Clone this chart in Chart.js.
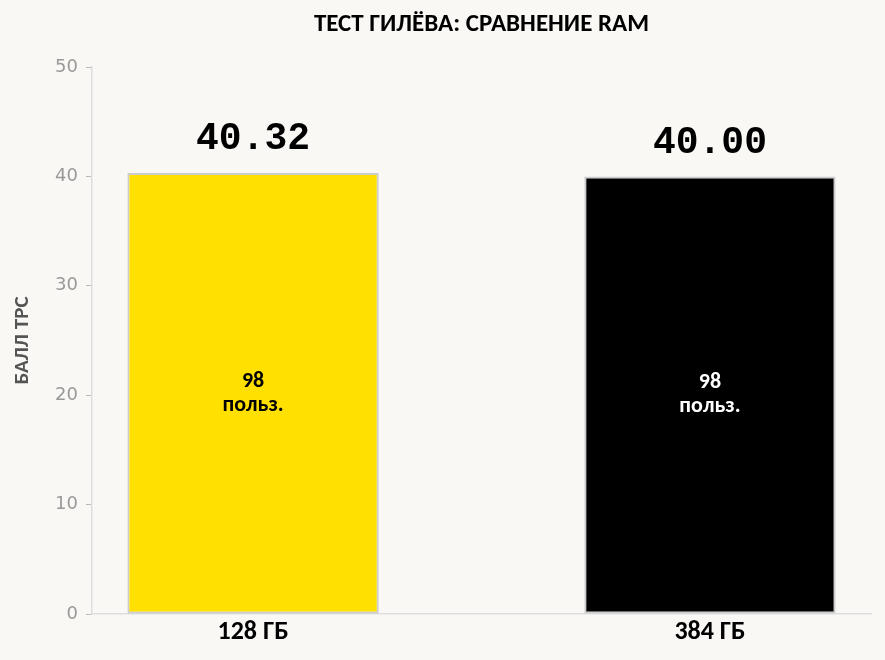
<!DOCTYPE html>
<html>
<head>
<meta charset="utf-8">
<script src="https://cdn.jsdelivr.net/npm/chart.js@4/dist/chart.umd.min.js"></script>
<style>
    html, body { margin: 0; padding: 0; background: #f9f8f5; }
    #wrap { width: 885px; height: 660px; }
</style>
</head>
<body>
<div id="wrap"><canvas id="chart"></canvas></div>
<script>
    /*
        ----------> DATA <----------
    */

    const chartTitle = "ТЕСТ ГИЛЁВА: СРАВНЕНИЕ RAM";
    const yTitle = "БАЛЛ TPC";
    const categories = ["128 ГБ", "384 ГБ"];
    const scores = [40.32, 40.00];
    const users = [98, 98];
    const usersUnit = "польз.";
    const barColors = ["#ffe000", "#000000"];
    const innerTextColors = ["#000000", "#ffffff"];

    const FONT = "Carlito, Roboto, 'Noto Sans', sans-serif";

    /*
        ----------> LABELS PLUGIN <----------
    */

    const barLabels = {
        id: "barLabels",
        afterDatasetsDraw(chart) {
            const ctx = chart.ctx;
            const area = chart.chartArea;
            const meta = chart.getDatasetMeta(0);

            ctx.save();
            ctx.textAlign = "center";
            ctx.textBaseline = "middle";

            meta.data.forEach((bar, i) => {
                ctx.fillStyle = "#000";
                ctx.font = "bold 38px 'Liberation Mono', monospace";
                ctx.fillText(scores[i].toFixed(2), bar.x, bar.y - 33);

                const mid = (bar.y + bar.base) / 2;
                ctx.fillStyle = innerTextColors[i];
                ctx.font = "bold 22px " + FONT;
                ctx.fillText(String(users[i]), bar.x, mid - 12);
                ctx.fillText(usersUnit, bar.x, mid + 12);
            });

            /* -----> TITLE <----- */
            ctx.fillStyle = "#000";
            ctx.font = "bold 25px " + FONT;
            ctx.fillText(chartTitle, (area.left + area.right) / 2, 25);
            ctx.restore();
        }
    };

    /*
        ----------> CHART <----------
    */

    new Chart(document.getElementById("chart"), {
        type: "bar",
        data: {
            datasets: [
                {
                    data: scores.map((v, i) => ({ x: i, y: v })),
                    backgroundColor: barColors,
                    borderColor: "#cccccc",
                    borderWidth: 2,
                    borderSkipped: false,
                    categoryPercentage: 0.55,
                    barPercentage: 1,
                }
            ]
        },
        options: {
            responsive: true,
            maintainAspectRatio: false,
            animation: false,
            layout: { padding: { top: 67, right: 14, bottom: 0, left: 0 } },
            plugins: {
                legend: { display: false },
                tooltip: { enabled: false },
            },
            scales: {
                x: {
                    type: "linear",
                    offset: false,
                    min: -0.3525,
                    max: 1.3525,
                    afterBuildTicks: axis => {
                        axis.ticks = categories.map((_, i) => ({ value: i }));
                    },
                    afterFit: axis => { axis.height = 46; },
                    grid: { display: false, drawTicks: false, offset: false },
                    border: { display: true, color: "#dddddd", width: 1.5 },
                    ticks: {
                        padding: 3,
                        color: "#000",
                        font: { family: FONT, size: 26, weight: "bold" },
                        callback: value => categories[value],
                    },
                },
                y: {
                    min: 0,
                    max: 50,
                    afterFit: axis => { axis.width = 92; },
                    grid: {
                        drawOnChartArea: false,
                        tickLength: 6,
                        tickColor: "#bbbbbb",
                    },
                    border: { display: true, color: "#dddddd", width: 1.5 },
                    ticks: {
                        stepSize: 10,
                        padding: 8,
                        color: "#999999",
                        font: { family: "'DejaVu Sans', sans-serif", size: 18 },
                    },
                    title: {
                        display: true,
                        text: yTitle,
                        color: "#555555",
                        padding: { top: 10, bottom: 0 },
                        font: { family: FONT, size: 21, weight: "bold" },
                    },
                },
            },
        },
        plugins: [barLabels],
    });
</script>
</body>
</html>
